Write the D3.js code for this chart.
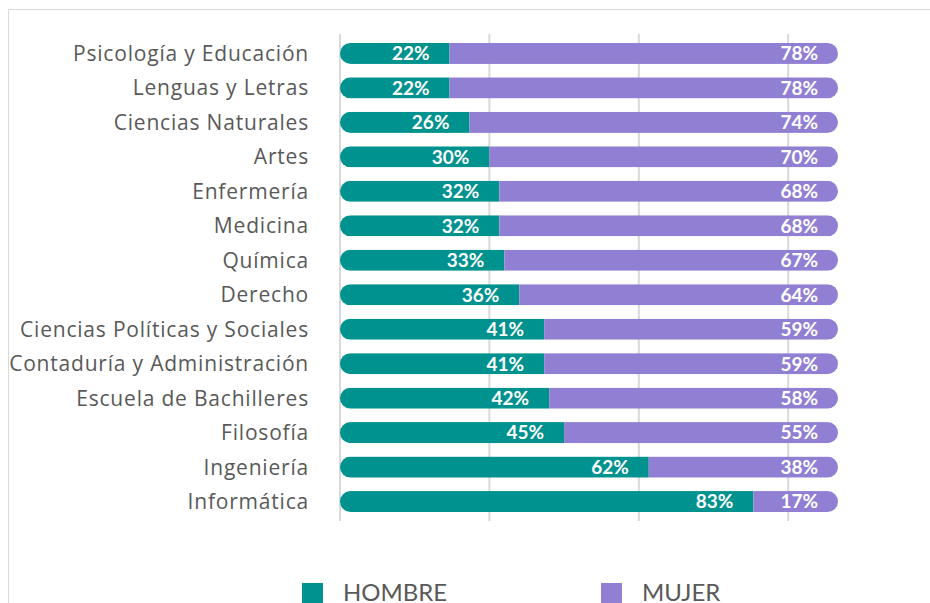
<!DOCTYPE html>
<html>
<head>
<meta charset="utf-8">
<script src="https://cdn.jsdelivr.net/npm/d3@7"></script>
<style>
  body { margin: 0; background: #fff; }
  svg { display: block; }
</style>
</head>
<body>
<svg id="canvas" width="930" height="603"></svg>
<script>
var carreras = ["Psicología y Educación", "Lenguas y Letras", "Ciencias Naturales", "Artes",
                "Enfermería", "Medicina", "Química", "Derecho",
                "Ciencias Políticas y Sociales", "Contaduría y Administración",
                "Escuela de Bachilleres", "Filosofía", "Ingeniería", "Informática"]
var hombre = [22, 22, 26, 30, 32, 32, 33, 36, 41, 41, 42, 45, 62, 83]
var mujer  = [78, 78, 74, 70, 68, 68, 67, 64, 59, 59, 58, 55, 38, 17]
var series = ["HOMBRE", "MUJER"]
var grid_ticks = [0, 30, 60, 90]

var colors = ["#00928f", "#917fd3"]
var text_color = "#595959"
var font = "'Open Sans', sans-serif"
var font_val = "'Lato', 'Open Sans', sans-serif"

var canvas = d3.select("#canvas")

// marco
canvas.append("path")
    .attr("d", "M8.5 603 V9.5 H930")
    .style("fill", "none")
    .style("stroke", "#d9d9d9")
    .style("stroke-width", 1)

var x = d3.scaleLinear().domain([0, 100]).range([340, 838])
var y = d3.scaleBand().domain(carreras).range([36, 519]).paddingInner(0.39).paddingOuter(0.2)

// lineas de cuadricula
canvas.selectAll(".grid").data(grid_ticks).enter().append("line")
    .attr("x1", function(d){ return x(d) }).attr("x2", function(d){ return x(d) })
    .attr("y1", 34).attr("y2", 521)
    .style("stroke", "#d9d9d9")
    .style("stroke-width", 2)

var defs = canvas.append("defs")
var bh = y.bandwidth()

carreras.forEach(function(c, i){
    var y0 = y(c)
    defs.append("clipPath").attr("id", "clip" + i)
        .append("rect")
        .attr("x", x(0)).attr("y", y0)
        .attr("width", x(100) - x(0)).attr("height", bh)
        .attr("rx", bh / 2)

    var g = canvas.append("g").attr("clip-path", "url(#clip" + i + ")")
    var vals = [hombre[i], mujer[i]]
    var start = 0
    vals.forEach(function(v, j){
        g.append("rect")
            .attr("x", x(start)).attr("y", y0)
            .attr("width", x(start + v) - x(start)).attr("height", bh)
            .style("fill", colors[j])
        canvas.append("text")
            .attr("x", x(start + v) - 20)
            .attr("y", y0 + bh / 2)
            .attr("dy", "0.36em")
            .attr("text-anchor", "end")
            .style("fill", "#fff")
            .style("font-family", font_val)
            .style("font-weight", "bold")
            .style("font-size", "19px")
            .text(v + "%")
        start = start + v
    })

    canvas.append("text")
        .attr("x", 309)
        .attr("y", y0 + bh / 2)
        .attr("dy", "0.36em")
        .attr("text-anchor", "end")
        .style("fill", text_color)
        .style("font-family", font)
        .style("font-size", "21px")
        .style("letter-spacing", "0.8px")
        .text(c)
})

// leyenda
var legend_x = [302, 601]
series.forEach(function(s, j){
    canvas.append("rect")
        .attr("x", legend_x[j]).attr("y", 583)
        .attr("width", 21).attr("height", 21)
        .style("fill", colors[j])
    canvas.append("text")
        .attr("x", legend_x[j] + 41).attr("y", 601)
        .style("fill", text_color)
        .style("font-family", font_val)
        .style("font-size", "24px")
        .text(s)
})
</script>
</body>
</html>
